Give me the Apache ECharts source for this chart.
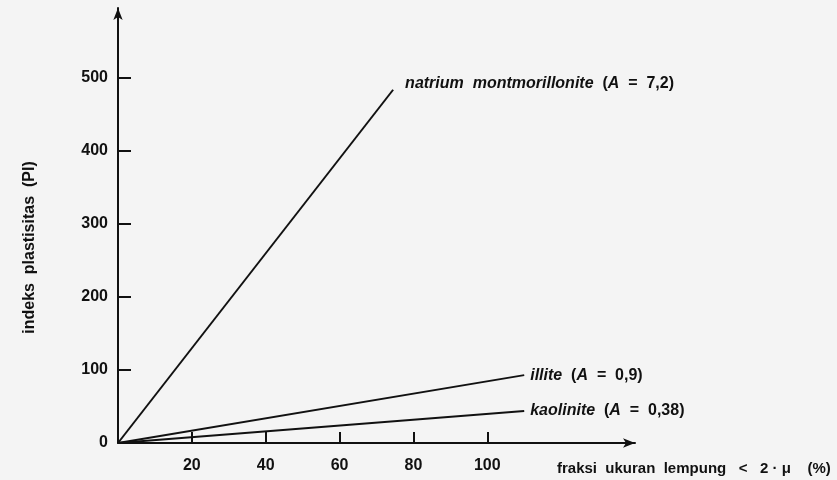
<!DOCTYPE html>
<html>
<head>
<meta charset="utf-8">
<script src="https://cdn.jsdelivr.net/npm/echarts@6/dist/echarts.min.js"></script>
<style>
  html, body { margin: 0; padding: 0; background: #f4f4f4; }
  #chart { width: 837px; height: 480px; }
</style>
</head>
<body>
<div id="chart"></div>
<script>
// clay lines, each from the origin to its end point
const clayNames = ['natrium montmorillonite', 'illite', 'kaolinite'];
const activity = ['7,2', '0,9', '0,38'];
const endX = [74.5, 110, 110];
const endY = [484, 93, 44];

const xTicks = [20, 40, 60, 80, 100];
const yTicks = [0, 100, 200, 300, 400, 500];

const chart = echarts.init(document.getElementById('chart'));

const txt = { fontWeight: 'bold', fontSize: 16, color: '#111', fontFamily: 'Liberation Sans' };

const series = clayNames.map(function (name, i) {
    return {
        name: name,
        type: 'line',
        symbol: 'none',
        lineStyle: { color: '#111', width: 2 },
        endLabel: {
            show: true,
            distance: i === 0 ? 12 : 6,
            offset: i === 0 ? [0, -6] : [0, 0],
            formatter: '{n|' + name.replace(' ', '  ') + '}{t|  (}{n|A}{t|  =  ' + activity[i] + ')}',
            rich: {
                n: Object.assign({ fontStyle: 'italic' }, txt),
                t: txt,
            },
        },
        data: [[0, 0], [endX[i], endY[i]]],
    };
});

const option = {
    backgroundColor: '#f4f4f4',
    animation: false,
    grid: { left: 118, right: 202, top: 8, bottom: 37 },
    xAxis: {
        type: 'value',
        min: 0,
        max: 140,
        interval: 20,
        splitLine: { show: false },
        axisLine: { lineStyle: { color: '#111', width: 2 }, symbol: ['none', 'arrow'], symbolSize: [7, 12] },
        axisTick: { inside: true, length: 11, customValues: xTicks, lineStyle: { color: '#111', width: 2 } },
        axisLabel: {
            customValues: xTicks,
            margin: 15,
            fontSize: 16,
            fontWeight: 'bold',
            color: '#111',
            fontFamily: 'Liberation Sans',
        },
        name: 'fraksi  ukuran  lempung   <   2 · μ    (%)',
        nameLocation: 'end',
        nameGap: -78,
        nameTextStyle: {
            align: 'left',
            verticalAlign: 'top',
            padding: [18, 0, 0, 0],
            fontSize: 15,
            fontWeight: 'bold',
            color: '#111',
            fontFamily: 'Liberation Sans',
        },
    },
    yAxis: {
        type: 'value',
        min: 0,
        max: 596,
        interval: 100,
        splitLine: { show: false },
        axisLine: { lineStyle: { color: '#111', width: 2 }, symbol: ['none', 'arrow'], symbolSize: [7, 12] },
        axisTick: { inside: true, length: 13, customValues: yTicks, lineStyle: { color: '#111', width: 2 } },
        axisLabel: {
            customValues: yTicks,
            margin: 10,
            fontSize: 16,
            fontWeight: 'bold',
            color: '#111',
            fontFamily: 'Liberation Sans',
        },
        name: 'indeks  plastisitas  (PI)',
        nameLocation: 'middle',
        nameGap: 80,
        nameTextStyle: {
            fontSize: 16,
            fontWeight: 'bold',
            color: '#111',
            fontFamily: 'Liberation Sans',
            padding: [0, 44, 0, 0],
        },
    },
    series: series,
};

chart.setOption(option);
</script>
</body>
</html>
